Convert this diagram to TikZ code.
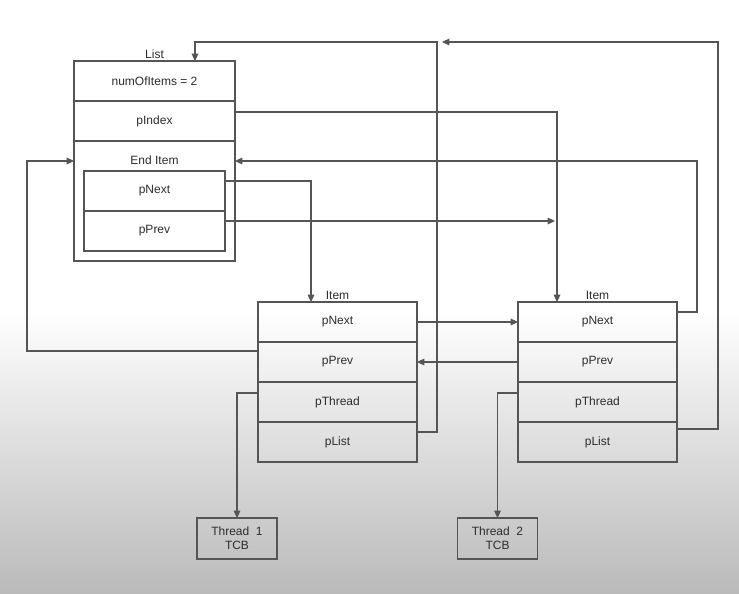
\documentclass[tikz,border=0pt]{standalone}
\usepackage{fontspec}
\setmainfont{Liberation Sans}
\usetikzlibrary{arrows.meta,positioning}
\definecolor{linegray}{RGB}{85,85,85}
\definecolor{textgray}{RGB}{45,45,45}
\definecolor{bggray}{RGB}{186,186,186}
\tikzset{
	cell/.style={draw=linegray, line width=0.85pt, minimum width=119.25pt, minimum height=30pt, inner sep=0pt, outer sep=0pt, text=textgray, font=\fontsize{9}{10.5}\selectfont},
	lbl/.style={text=textgray, font=\fontsize{9}{10.5}\selectfont, inner sep=1.5pt},
	link/.style={draw=linegray, line width=0.8pt, -{Triangle[length=5.5pt,width=5pt]}},
}
\begin{document}
\begin{tikzpicture}[x=0.75pt,y=0.75pt,yscale=-1,xscale=1]
	%Background
	\fill[white] (0,0) rectangle (739,593);
	\shade[top color=white, bottom color=bggray] (0,310) rectangle (739,593);
	\useasboundingbox (0,0) rectangle (739,593);
	
	%List
	\node[cell, minimum width=120.75pt, label={[lbl]above:List}] (lnum) at (154.5,81) {numOfItems = 2};
	\node[cell, minimum width=120.75pt, below=0pt of lnum] (lindex) {pIndex};
	\node[cell, minimum width=120.75pt, minimum height=90pt, below=0pt of lindex] (lend) {};
	% Text Node
	\node[lbl] (endlbl) at (154.5,160) {End Item};
	\node[cell, minimum width=105.75pt] (enext) at (154.5,191) {pNext};
	\node[cell, minimum width=105.75pt, below=0pt of enext] (eprev) {pPrev};
	
	%Item 1
	\node[cell, label={[lbl]above:Item}] (i1next) at (337.5,322) {pNext};
	\node[cell, below=0pt of i1next] (i1prev) {pPrev};
	\node[cell, below=0pt of i1prev] (i1thread) {pThread};
	\node[cell, below=0pt of i1thread] (i1list) {pList};
	
	%Item 2
	\node[cell, label={[lbl]above:Item}] (i2next) at (597.5,322) {pNext};
	\node[cell, below=0pt of i2next] (i2prev) {pPrev};
	\node[cell, below=0pt of i2prev] (i2thread) {pThread};
	\node[cell, below=0pt of i2thread] (i2list) {pList};
	
	%Threads
	\node[cell, minimum width=60pt, minimum height=30.75pt, align=center] (th1) at (237,538.5) {Thread\ \ 1\\TCB};
	\node[cell, minimum width=60pt, minimum height=30.75pt, align=center] (th2) at (497.5,538.5) {Thread\ \ 2\\TCB};
	
	\coordinate (listtop) at (442,42);
	\coordinate (pindexend) at (555,221);
	
	%Straight Lines
	\draw[link] (i1list.east |- 0,432) -| (437,42) -| (lnum.north -| 195,0);
	\draw[link] (i2list.east |- 0,429) -| (718,42) -- (listtop);
	\draw[link] (lindex.east |- 0,112) -| (i2next.north -| 557,0);
	\draw[link] (i2next.east |- 0,312) -| (697,161) -- (lend.east |- 0,161);
	\draw[link] (i1prev.west |- 0,351) -| (27,161) -- (lend.west |- 0,161);
	\draw[link] (enext.east |- 0,181) -| (i1next.north -| 311,0);
	\draw[link] (eprev.east |- 0,221) -- (pindexend);
	\draw[link] (i1next.east) -- (i2next.west);
	\draw[link] (i2prev.west) -- (i1prev.east);
	\draw[link] (i1thread.west |- 0,393) -| (th1.north);
	\draw[link] (i2thread.west |- 0,393) -| (th2.north);
\end{tikzpicture}
\end{document}
